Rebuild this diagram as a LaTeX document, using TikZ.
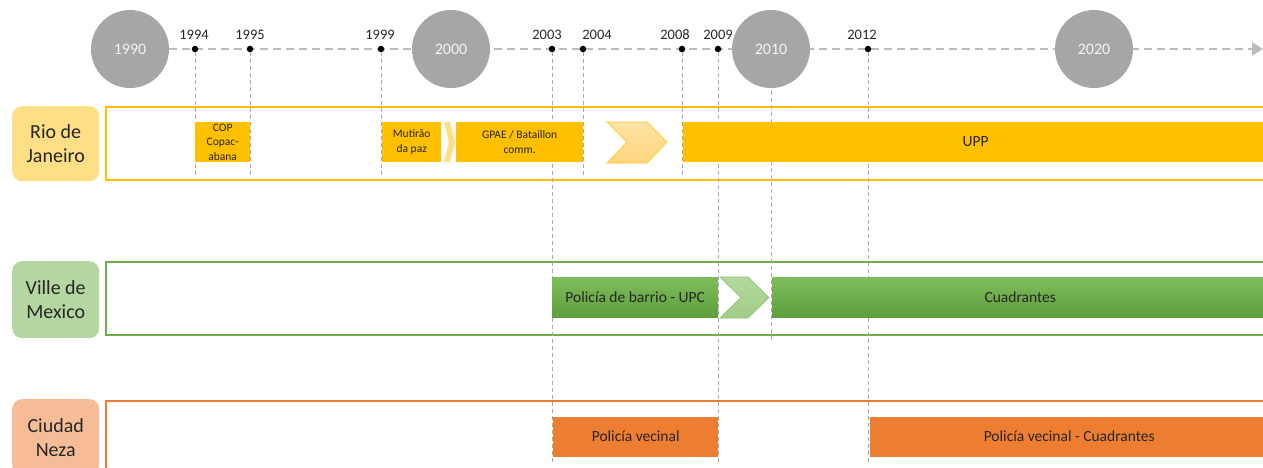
\documentclass[tikz,border=0pt]{standalone}
\usepackage{fontspec}
\setmainfont{Carlito}
\usetikzlibrary{arrows.meta,shapes.geometric}

\definecolor{gold}{HTML}{FFC000}
\definecolor{goldlight}{HTML}{FFDF85}
\definecolor{goldtop}{HTML}{FFE2A6}
\definecolor{goldbot}{HTML}{FFD47C}
\definecolor{grn}{HTML}{70AD47}
\definecolor{grnlight}{HTML}{B5D6A0}
\definecolor{grntop}{HTML}{7FBC5C}
\definecolor{grnbot}{HTML}{5E9E3C}
\definecolor{chevtop}{HTML}{B3D89C}
\definecolor{chevbot}{HTML}{A2CC86}
\definecolor{chevline}{HTML}{8FC26E}
\definecolor{orng}{HTML}{ED7D31}
\definecolor{orlight}{HTML}{F5BC96}
\definecolor{circgray}{HTML}{A6A6A6}
\definecolor{circtext}{HTML}{F4F4F4}
\definecolor{tlgray}{HTML}{BDBABA}
\definecolor{vgray}{HTML}{A8A8A8}
\definecolor{textdark}{HTML}{262626}

\tikzset{
  tl/.style={draw=tlgray, line width=2.5pt, dash pattern=on 8pt off 5pt},
  yearcirc/.style={ellipse, fill=circgray, minimum width=78pt, minimum height=78pt,
    inner sep=0pt, text=circtext, font=\fontsize{16}{19}\selectfont},
  yeardot/.style={circle, fill=black, minimum size=6.5pt, inner sep=0pt},
  yearlab/.style={font=\fontsize{14.5}{16}\selectfont, text=textdark, anchor=base, inner sep=0pt},
  vline/.style={draw=vgray, line width=0.9pt, dash pattern=on 4pt off 3pt},
  lane/.style={rectangle, fill=white, line width=1.6pt, inner sep=0pt, anchor=north west},
  citybox/.style={rectangle, rounded corners=10pt, inner sep=0pt, anchor=north west,
    minimum width=87pt, align=center, text=textdark, font=\fontsize{20}{24}\selectfont},
  bar/.style={rectangle, inner sep=0pt, anchor=west, minimum height=40pt, align=center,
    text=textdark, font=\fontsize{15.5}{18}\selectfont},
  smallbar/.style={bar, fill=gold, font=\fontsize{11.5}{14.5}\selectfont},
  greenbar/.style={bar, top color=grntop, bottom color=grnbot, draw=none},
}

\begin{document}
\begin{tikzpicture}[x=1pt,y=-1pt]
\useasboundingbox (0,0) rectangle (1263,468);
\clip (0,0) rectangle (1263,468);

% lanes
\node[lane, draw=gold, minimum width=1170pt, minimum height=73pt] (laneRio) at (105,106) {};
\node[lane, draw=grn,  minimum width=1170pt, minimum height=73pt] (laneMex) at (105,261) {};
\node[lane, draw=orng, minimum width=1170pt, minimum height=85pt] (laneNeza) at (105,400) {};

% time axis
\coordinate (t0) at (130,49);
\coordinate (tlend) at (1263,49);
\draw[tl, -{Triangle[length=11pt,width=13pt]}] (t0) -- (tlend);

% milestone dots and years (label x given separately where it sits off the dot)
\foreach \yr/\x/\lx in {1994/195/194,1995/250/250,1999/381/380,2003/552/547,
                        2004/583/597,2008/682/675,2009/718/718,2012/868/862}{
  \node[yeardot] (d\yr) at (\x,49) {};
  \node[yearlab] (l\yr) at (\lx,40) {\yr};
}
\coordinate (y2010) at (771,49);

% guide lines
\coordinate (v1994) at (195,177);
\coordinate (v1995) at (250,177);
\coordinate (v1999) at (381,178);
\coordinate (v2003) at (552,464);
\coordinate (v2004) at (583,178);
\coordinate (v2008) at (682,178);
\coordinate (v2009) at (718,464);
\coordinate (v2010) at (771,342);
\coordinate (v2012) at (868,464);
\foreach \yr in {1994,1995,1999,2003,2004,2008,2009,2012}{
  \draw[vline] (d\yr) -- (v\yr);
}
\draw[vline] (y2010) -- (v2010);

% decade circles
\node[yearcirc] (c1990) at (130,49) {1990};
\node[yearcirc] (c2000) at (451,49) {2000};
\node[yearcirc] (c2010) at (771,49) {2010};
\node[yearcirc] (c2020) at (1094,49) {2020};

% Rio de Janeiro
\node[smallbar, minimum width=55pt] (cop) at (195,142) {COP\\Copac-\\abana};
\node[smallbar, minimum width=59pt] (mut) at (382,142) {Mutirão\\da paz};
\fill[goldlight, draw=goldlight!60!white, line width=0.6pt]
  (444,122) -- (450,122) -- (455,142) -- (450,162) -- (444,162) -- (449,142) -- cycle;
\node[smallbar, minimum width=127pt] (gpae) at (456,142) {GPAE / Bataillon\\comm.};
\path[top color=goldtop, bottom color=goldbot, draw=gold!80, line width=0.8pt]
  (607,122) -- (647,122) -- (667,142) -- (647,163) -- (607,163) -- (627,142) -- cycle;
\node[bar, fill=gold, minimum width=585pt] (upp) at (683,142) {UPP};

% Ville de Mexico
\node[greenbar, minimum width=166pt] (upc) at (552,297.5) {Policía de barrio - UPC};
\path[top color=chevtop, bottom color=chevbot, draw=chevline, line width=0.7pt]
  (720,277) -- (748,277) -- (769,297.5) -- (748,318) -- (720,318) -- (741,297.5) -- cycle;
\node[greenbar, minimum width=496pt] (cuad) at (772,297.5) {Cuadrantes};

% Ciudad Neza
\node[bar, fill=orng, minimum width=165pt] (vec) at (553,436.5) {Policía vecinal};
\node[bar, fill=orng, minimum width=398pt] (veccuad) at (870,436.5) {Policía vecinal - Cuadrantes};

% city labels
\node[citybox, fill=goldlight, minimum height=75pt] (rio) at (12,106) {Rio de\\Janeiro};
\node[citybox, fill=grnlight, minimum height=77pt] (mex) at (12,261) {Ville de\\Mexico};
\node[citybox, fill=orlight, minimum height=76pt] (neza) at (12,399) {Ciudad\\Neza};
\end{tikzpicture}
\end{document}
